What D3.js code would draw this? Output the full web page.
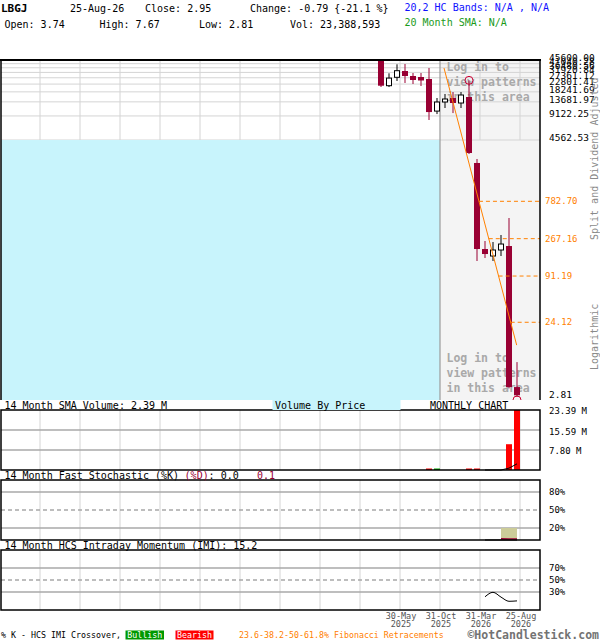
<!DOCTYPE html>
<html>
<head>
<meta charset="utf-8">
<script src="https://cdn.jsdelivr.net/npm/d3@7"></script>
<style>
  body { margin: 0; background: #fff; }
  svg { display: block; }
</style>
</head>
<body>
<svg id="chart" width="600" height="640"></svg>
<script>
// ---- monthly data, Mar-2025 .. Aug-2026 ----
const symbol = "LBGJ";
const lastDate = "25-Aug-26";
const months = ["Mar-25","Apr-25","May-25","Jun-25","Jul-25","Aug-25","Sep-25","Oct-25","Nov-25",
                "Dec-25","Jan-26","Feb-26","Mar-26","Apr-26","May-26","Jun-26","Jul-26","Aug-26"];
const opens  = [60800, 21770, 27720, 33230, 28780, 27960, 26400, 10490, 13620, 15280, 13230, 15730, 2357, 198.4, 162.2, 192.8, 216.2, 3.74];
const highs  = [81000, 31100, 40290, 40640, 31370, 31370, 36220, 15280, 17150, 18160, 18160, 25400, 2644, 249.8, 242.7, 296.8, 483.9, 7.67];
const lows   = [20970, 20950, 24920, 23530, 22860, 21580, 8117, 9626, 11460, 9907, 11460, 3052, 140.5, 153.1, 140.5, 162.2, 3.60, 2.81];
const closes = [21770, 27100, 33520, 28780, 25650, 25290, 10200, 13620, 14850, 13230, 16660, 3140, 198.4, 171.8, 192.8, 229.0, 3.74, 2.95];
// volume in millions of shares
const volumes   = [0, 0, 0, 0, 0, 0, 0.02, 0.015, 0, 0, 0, 0.02, 0.015, 0, 0, 0, 10.05, 23.388593];
const volumeSMA = [null, null, null, null, null, null, null, null, null, null, null, null, null, 0.005, 0.005, 0.006, 0.72, 2.39];
const stochK    = [null, null, null, null, null, null, null, null, null, null, null, null, null, 0.0, 0.0, 0.0, 0.0, 0.0];
const stochD    = [null, null, null, null, null, null, null, null, null, null, null, null, null, null, null, 0.3, 0.2, 0.1];
const imi       = [null, null, null, null, null, null, null, null, null, null, null, null, null, 22, 29.5, 21.5, 14.5, 15.2];

// axis ticks and overlays
const priceTicks = [45600.00, 41040.28, 36480.56, 31920.84, 27361.12, 22801.41, 18241.69, 13681.97, 9122.25, 4562.53, 2.81];
const fibLevels  = [782.70, 267.16, 91.19, 24.12];
const trendLine  = [{m: 7.875, v: 36200}, {m: 16.96, v: 12.5}];
const markers    = [{m: 11, v: 25400, dy: 0}, {m: 17, v: 2.81, dy: 3}];
const volTicks   = [23.39, 15.59, 7.80];
const stochTicks = [80, 50, 20];
const imiTicks   = [70, 50, 30];
const dateTicks  = [2, 7, 12, 17];
const dateLabels = [["30-May", "2025"], ["31-Oct", "2025"], ["31-Mar", "2026"], ["25-Aug", "2026"]];

// ---- layout and styles ----
const FONT = '"DejaVu Sans Mono","Liberation Mono",monospace';
const RED = "#990033";
const ORANGE = "#ff8000";
const CYAN = "#c8f4fc";
const GRID = "#d4d4d4";
const HGRID = "#a8a8a8";
const L = 1, R = 540;

const svg = d3.select("#chart").style("font-family", FONT);
svg.append("rect").attr("width", 600).attr("height", 640).attr("fill", "#fff");

function text(g, x, y, s, o = {}) {
  const t = g.append("text").attr("x", x).attr("y", y).text(s)
    .attr("font-size", o.size || 10).attr("fill", o.fill || "#000");
  if (o.bold) t.attr("font-weight", "bold");
  if (o.anchor) t.attr("text-anchor", o.anchor);
  return t;
}

const n = months.length;
const x = d3.scaleLinear().domain([0, n - 1]).range([381, 517]);
const gridX = i => x(i) + 3;
const gridIdx = d3.range(n - 1, -60, -5).filter(i => gridX(i) > 5 && gridX(i) < R);

// ---- header ----
const hdr = svg.append("g");
const last = n - 1;
const chg = closes[last] - closes[last - 1];
const pct = chg / closes[last - 1] * 100;
text(hdr, 1, 12, symbol, {bold: true, size: 11});
text(hdr, 70, 12, lastDate);
text(hdr, 145, 12, "Close: " + closes[last].toFixed(2));
text(hdr, 250, 12, "Change: " + chg.toFixed(2) + " {" + pct.toFixed(1) + " %}");
text(hdr, 404.5, 10.5, "20,2 HC Bands: N/A , N/A", {fill: "#1010ff"});
text(hdr, 4.5, 27.5, "Open: " + opens[last].toFixed(2));
text(hdr, 99.5, 27.5, "High: " + highs[last].toFixed(2));
text(hdr, 199, 27.5, "Low: " + lows[last].toFixed(2));
text(hdr, 290, 27.5, "Vol: " + d3.format(",")(Math.round(volumes[last] * 1e6)));
text(hdr, 404.5, 25.5, "20 Month SMA: N/A", {fill: "#1a9a1a"});

// ---- price panel (log scale) ----
const PT = 60, PB = 400, SPLIT = 440;
const y = d3.scaleLog().domain(d3.extent(priceTicks)).range([397, PT]);
const defs = svg.append("defs");
defs.append("clipPath").attr("id", "pclip").append("rect")
  .attr("x", L).attr("y", PT).attr("width", R - L).attr("height", PB - PT);
const pp = svg.append("g").attr("clip-path", "url(#pclip)");

pp.append("rect").attr("x", SPLIT).attr("y", PT).attr("width", R - SPLIT).attr("height", PB - PT).attr("fill", "#f4f4f4");
pp.selectAll(".hg").data(priceTicks.slice(0, -1)).join("line")
  .attr("x1", L).attr("x2", R).attr("y1", d => y(d)).attr("y2", d => y(d))
  .attr("stroke", GRID).attr("stroke-width", 1);
pp.selectAll(".vg").data(gridIdx.filter(i => Math.abs(gridX(i) - SPLIT) > 1)).join("line")
  .attr("x1", gridX).attr("x2", gridX).attr("y1", PT).attr("y2", y(priceTicks[priceTicks.length - 2]))
  .attr("stroke", GRID).attr("stroke-width", 1);
// volume-by-price band
pp.append("rect").attr("x", L).attr("y", y(priceTicks[priceTicks.length - 2]))
  .attr("width", SPLIT - L).attr("height", PB - y(priceTicks[priceTicks.length - 2])).attr("fill", CYAN);
pp.append("line").attr("x1", SPLIT).attr("x2", SPLIT).attr("y1", PT).attr("y2", PB)
  .attr("stroke", "#9a9a9a").attr("stroke-width", 1.2);

// pattern notices
[[71, 86, 101], [362, 377, 392]].forEach(rows => {
  ["Log in to", "view patterns", "in this area"].forEach((s, k) =>
    text(pp, 446.5, rows[k], s, {bold: true, size: 11.5, fill: "#a9a9a9"}));
});

// candles
const candles = pp.selectAll(".c").data(d3.range(n)).join("g");
candles.append("line")
  .attr("x1", i => x(i)).attr("x2", i => x(i))
  .attr("y1", i => y(highs[i])).attr("y2", i => y(lows[i]))
  .attr("stroke", i => closes[i] < opens[i] ? RED : "#000").attr("stroke-width", 1);
candles.append("rect")
  .attr("x", i => closes[i] < opens[i] ? x(i) - 3 : x(i) - 2.5)
  .attr("width", i => closes[i] < opens[i] ? 6 : 5)
  .attr("y", i => y(Math.max(opens[i], closes[i])))
  .attr("height", i => Math.max(1, y(Math.min(opens[i], closes[i])) - y(Math.max(opens[i], closes[i]))))
  .attr("fill", i => closes[i] < opens[i] ? RED : "#fff")
  .attr("stroke", i => closes[i] < opens[i] ? "none" : "#000").attr("stroke-width", 1);

// trend line and Fibonacci retracements
const tx = d3.scaleLinear().domain([Math.log(trendLine[0].v), Math.log(trendLine[1].v)]).range([trendLine[0].m, trendLine[1].m]);
pp.append("line")
  .attr("x1", x(trendLine[0].m)).attr("y1", y(trendLine[0].v))
  .attr("x2", x(trendLine[1].m)).attr("y2", y(trendLine[1].v))
  .attr("stroke", ORANGE).attr("stroke-width", 1);
pp.selectAll(".fib").data(fibLevels).join("line")
  .attr("x1", d => x(tx(Math.log(d)))).attr("x2", R)
  .attr("y1", d => y(d)).attr("y2", d => y(d))
  .attr("stroke", ORANGE).attr("stroke-width", 1).attr("stroke-dasharray", "4,3");
pp.selectAll(".mk").data(markers).join("circle")
  .attr("cx", d => x(d.m)).attr("cy", d => y(d.v) + d.dy).attr("r", 4)
  .attr("fill", "none").attr("stroke", "#cc0033").attr("stroke-width", 1);

// price panel frame
svg.append("line").attr("x1", 0).attr("x2", R + 1).attr("y1", PT).attr("y2", PT).attr("stroke", "#000").attr("stroke-width", 2);
svg.append("line").attr("x1", L).attr("x2", L).attr("y1", PT).attr("y2", PB).attr("stroke", "#000").attr("stroke-width", 1.5);
svg.append("line").attr("x1", R).attr("x2", R).attr("y1", PT).attr("y2", PB).attr("stroke", "#000").attr("stroke-width", 1.5);

// price axis labels
const pa = svg.append("g");
priceTicks.forEach(v => text(pa, 549, y(v) + 1, v.toFixed(2), {size: 9.5}));
fibLevels.forEach(v => text(pa, 545, y(v) + 3, v.toFixed(2), {size: 9, fill: ORANGE}));
text(pa, 0, 0, "Split and Dividend Adjusted", {size: 10, fill: "#8a8a8a"})
  .attr("transform", "translate(597.5,240) rotate(-90)");
text(pa, 0, 0, "Logarithmic", {size: 10, fill: "#8a8a8a"})
  .attr("transform", "translate(597.5,370) rotate(-90)");

// ---- sub-panels ----
function subPanel(top, h) {
  const g = svg.append("g");
  g.selectAll("line.v").data(gridIdx).join("line")
    .attr("x1", gridX).attr("x2", gridX).attr("y1", top).attr("y2", top + h)
    .attr("stroke", GRID).attr("stroke-width", 1);
  return g;
}
function frame(top, h) {
  svg.append("rect").attr("x", L).attr("y", top).attr("width", R - L).attr("height", h)
    .attr("fill", "none").attr("stroke", "#000").attr("stroke-width", 1.5);
}

// volume
const VT = 410, VH = 60;
const vg = subPanel(VT, VH);
const vy = d3.scaleLinear().domain([0, d3.max(volumes)]).range([VT + VH, VT]);
volTicks.slice(1).forEach(v => vg.append("line").attr("x1", L).attr("x2", R)
  .attr("y1", vy(v)).attr("y2", vy(v)).attr("stroke", HGRID).attr("stroke-width", 1.3));
vg.selectAll("rect.vb").data(d3.range(n).filter(i => volumes[i] > 0)).join("rect")
  .attr("x", i => x(i) - 3).attr("width", 6)
  .attr("y", i => Math.min(vy(volumes[i]), VT + VH - 1.5))
  .attr("height", i => Math.max(1.5, VT + VH - vy(volumes[i])))
  .attr("fill", i => closes[i] < opens[i] ? "#ff0000" : "#00aa00");
vg.append("path")
  .datum(d3.range(n).filter(i => volumeSMA[i] != null))
  .attr("d", d3.line().x(i => x(i)).y(i => vy(volumeSMA[i])))
  .attr("fill", "none").attr("stroke", "#000").attr("stroke-width", 1);
frame(VT, VH);
const va = svg.append("g");
volTicks.forEach(v => text(va, 549, vy(v) + 4.5, v.toFixed(2) + " M", {size: 9}));
const vt = svg.append("g");
text(vt, 4.5, 409, "14 Month SMA Volume: " + volumeSMA[last].toFixed(2) + " M");
vt.append("rect").attr("x", 272.5).attr("y", 400).attr("width", 128).attr("height", 10).attr("fill", CYAN);
text(vt, 275, 409, "Volume By Price");
text(vt, 430, 409, "MONTHLY CHART");

// stochastic
const ST = 480, SH = 60;
const sg = subPanel(ST, SH);
const sy = d3.scaleLinear().domain([0, 100]).range([ST + SH, ST]);
stochTicks.forEach(v => sg.append("line").attr("x1", L).attr("x2", R)
  .attr("y1", sy(v)).attr("y2", sy(v)).attr("stroke", HGRID).attr("stroke-width", 1.3)
  .attr("stroke-dasharray", v === 50 ? "4,3" : null));
const dIdx = d3.range(n).filter(i => stochD[i] != null);
sg.append("path").datum(dIdx)
  .attr("d", d3.area().x(i => x(i)).y0(sy(20)).y1(i => sy(Math.min(20, stochK[i]))))
  .attr("fill", "#cccc99");
sg.append("path").datum(d3.range(n).filter(i => stochK[i] != null))
  .attr("d", d3.line().x(i => x(i)).y(i => sy(stochK[i])))
  .attr("fill", "none").attr("stroke", "#000").attr("stroke-width", 1);
sg.append("path").datum(dIdx)
  .attr("d", d3.line().x(i => x(i)).y(i => sy(stochD[i]) - 1))
  .attr("fill", "none").attr("stroke", RED).attr("stroke-width", 1.5);
frame(ST, SH);
const sa = svg.append("g");
stochTicks.forEach(v => text(sa, 549, sy(v) + 3, v + "%", {size: 9}));
const st = svg.append("g");
text(st, 4.5, 479, "14 Month Fast Stochastic (%K) ");
text(st, 184.6, 479, "(%D)", {fill: RED});
text(st, 208.6, 479, ": " + stochK[last].toFixed(1));
text(st, 257, 479, stochD[last].toFixed(1), {fill: RED});

// intraday momentum
const IT = 550, IH = 60;
const ig = subPanel(IT, IH);
const iy = d3.scaleLinear().domain([0, 100]).range([IT + IH, IT]);
imiTicks.forEach(v => ig.append("line").attr("x1", L).attr("x2", R)
  .attr("y1", iy(v)).attr("y2", iy(v)).attr("stroke", HGRID).attr("stroke-width", 1.3)
  .attr("stroke-dasharray", v === 50 ? "4,3" : null));
ig.append("path").datum(d3.range(n).filter(i => imi[i] != null))
  .attr("d", d3.line().x(i => x(i)).y(i => iy(imi[i])).curve(d3.curveMonotoneX))
  .attr("fill", "none").attr("stroke", "#000").attr("stroke-width", 1);
frame(IT, IH);
const ia = svg.append("g");
imiTicks.forEach(v => text(ia, 549, iy(v) + 3, v + "%", {size: 9}));
text(svg.append("g"), 4.5, 549, "14 Month HCS Intraday Momentum (IMI): " + imi[last].toFixed(1));

// date axis
const da = svg.append("g");
dateTicks.forEach((m, k) => {
  text(da, gridX(m) + 1, 618.5, dateLabels[k][0], {size: 8.5, fill: "#555", anchor: "middle"});
  text(da, gridX(m) + 1, 626.5, dateLabels[k][1], {size: 8.5, fill: "#555", anchor: "middle"});
});

// footer legend
const ft = svg.append("g");
text(ft, 1, 638, "% K - HCS IMI Crossover,", {size: 8.3});
ft.append("rect").attr("x", 125.5).attr("y", 630.5).attr("width", 38.5).attr("height", 9).attr("fill", "#009900");
text(ft, 144.7, 638, "Bullish", {size: 8.3, fill: "#fff", anchor: "middle"});
ft.append("rect").attr("x", 175.5).attr("y", 630.5).attr("width", 38).attr("height", 9).attr("fill", "#ff0000");
text(ft, 194.5, 638, "Bearish", {size: 8.3, fill: "#fff", anchor: "middle"});
text(ft, 239, 638, "23.6-38.2-50-61.8% Fibonacci Retracements", {size: 8.3, fill: ORANGE});
text(ft, 599, 638.5, "\u00a9HotCandlestick.com", {size: 11.5, bold: true, fill: "#737373", anchor: "end"});
</script>
</body>
</html>
